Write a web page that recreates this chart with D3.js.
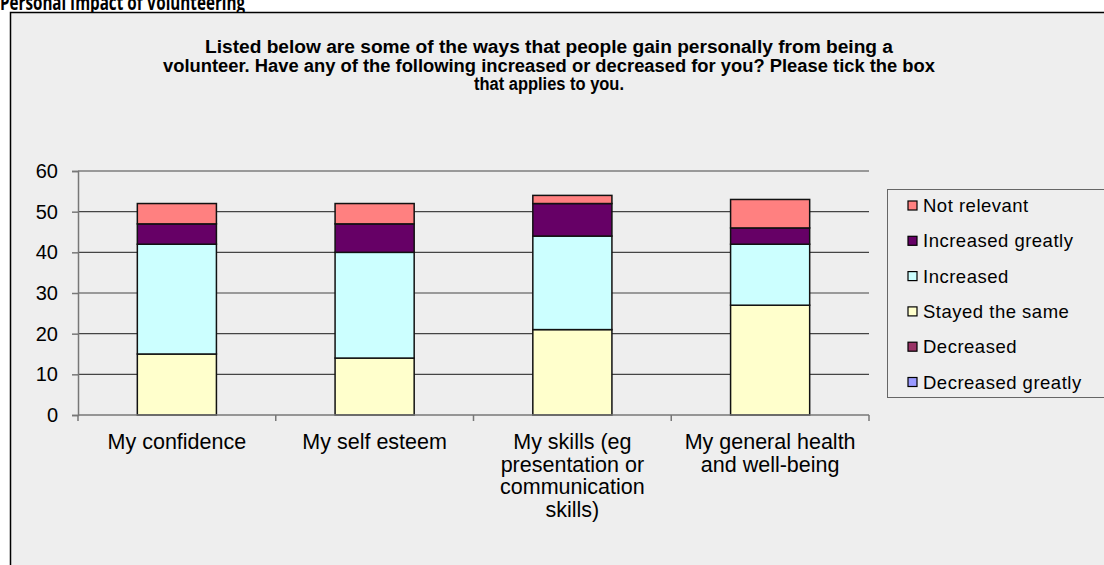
<!DOCTYPE html>
<html>
<head>
<meta charset="utf-8">
<script src="https://cdn.jsdelivr.net/npm/d3@7/dist/d3.min.js"></script>
<style>
  html, body { margin: 0; padding: 0; background: #ffffff; }
  svg { display: block; }
  text { font-family: "Liberation Sans", Arial, sans-serif; fill: #000; }
</style>
</head>
<body>
<svg id="chart" width="1104" height="565"></svg>
<script>
// Survey responses per item (counts of respondents)
const categories = [
  ["My confidence"],
  ["My self esteem"],
  ["My skills (eg", "presentation or", "communication", "skills)"],
  ["My general health", "and well-being"]
];
const seriesNames = ["Decreased greatly", "Decreased", "Stayed the same", "Increased", "Increased greatly", "Not relevant"];
const seriesColors = ["#9999FF", "#993366", "#FFFFCC", "#CCFFFF", "#660066", "#FF8080"];
const decreasedGreatly = [0, 0, 0, 0];
const decreased        = [0, 0, 0, 0];
const stayedTheSame    = [15, 14, 21, 27];
const increased        = [27, 26, 23, 15];
const increasedGreatly = [5, 7, 8, 4];
const notRelevant      = [5, 5, 2, 7];
const yTicks = [0, 10, 20, 30, 40, 50, 60];
const questionLines = [
  "Listed below are some of the ways that people gain personally from being a",
  "volunteer.  Have any of the following increased or decreased for you?  Please tick the box",
  "that applies to you."
];
const questionWidths = [688, 772, 150];

const seriesValues = [decreasedGreatly, decreased, stayedTheSame, increased, increasedGreatly, notRelevant];
const rows = categories.map((c, i) => {
  const r = { key: i };
  seriesNames.forEach((s, j) => r[s] = seriesValues[j][i]);
  return r;
});
const stacked = d3.stack().keys(seriesNames)(rows);

const svg = d3.select("#chart");

// page heading
svg.append("text")
  .attr("x", 0).attr("y", 10)
  .attr("textLength", 245).attr("lengthAdjust", "spacingAndGlyphs")
  .style("font-family", "'Open Sans', 'Noto Sans', sans-serif")
  .style("font-weight", "bold").style("font-size", "21px")
  .text("Personal Impact of Volunteering");

// chart area
svg.append("rect")
  .attr("x", 10.5).attr("y", 12.5)
  .attr("width", 1110).attr("height", 570)
  .attr("fill", "#eeeeee").attr("stroke", "#000").attr("stroke-width", 1.5);

// question text
svg.append("g").selectAll("text").data(questionLines).join("text")
  .attr("x", 549).attr("y", (d, i) => 53 + i * 18.6)
  .attr("text-anchor", "middle")
  .attr("textLength", (d, i) => questionWidths[i]).attr("lengthAdjust", "spacingAndGlyphs")
  .style("font-size", "18px").style("font-weight", "bold")
  .text(d => d);

const plot = { left: 78, right: 869, top: 171, bottom: 415 };

const x = d3.scaleBand()
  .domain(d3.range(categories.length))
  .range([plot.left, plot.right])
  .paddingInner(0.6).paddingOuter(0.3);

const y = d3.scaleLinear().domain([0, 60]).range([plot.bottom, plot.top]);

// gridlines
svg.append("g").selectAll("line").data(yTicks.filter(t => t > 0)).join("line")
  .attr("x1", plot.left).attr("x2", plot.right)
  .attr("y1", d => y(d)).attr("y2", d => y(d))
  .attr("stroke", "#444").attr("stroke-width", 1.2);

// value axis
const yAxis = svg.append("g")
  .attr("transform", `translate(${plot.left},0)`)
  .call(d3.axisLeft(y).tickValues(yTicks).tickSize(6).tickPadding(14));
yAxis.select(".domain").attr("stroke", "#777").attr("stroke-width", 1.5);
yAxis.selectAll(".tick line").attr("stroke", "#777").attr("stroke-width", 1.5);
yAxis.selectAll(".tick text")
  .style("font-family", "'Liberation Sans', Arial, sans-serif")
  .style("font-size", "20px").attr("fill", "#000");

// stacked bars
svg.append("g").selectAll("g").data(stacked).join("g")
  .attr("fill", (d, i) => seriesColors[i])
  .selectAll("rect").data(d => d.filter(p => p[1] - p[0] > 0)).join("rect")
  .attr("x", d => x(d.data.key))
  .attr("width", x.bandwidth())
  .attr("y", d => y(d[1]))
  .attr("height", d => y(d[0]) - y(d[1]))
  .attr("stroke", "#111").attr("stroke-width", 1.5);

// category axis
const step = (plot.right - plot.left) / categories.length;
const xAxis = svg.append("g");
xAxis.append("line")
  .attr("x1", plot.left).attr("x2", plot.right)
  .attr("y1", plot.bottom).attr("y2", plot.bottom)
  .attr("stroke", "#777").attr("stroke-width", 1.5);
xAxis.selectAll("line.tk").data(d3.range(categories.length + 1)).join("line")
  .attr("class", "tk")
  .attr("x1", d => plot.left + d * step).attr("x2", d => plot.left + d * step)
  .attr("y1", plot.bottom).attr("y2", plot.bottom + 6)
  .attr("stroke", "#777").attr("stroke-width", 1.5);

const labels = xAxis.selectAll("text").data(categories).join("text")
  .attr("text-anchor", "middle")
  .style("font-size", "21.5px");
labels.selectAll("tspan").data((d, i) => d.map(line => ({ line, i }))).join("tspan")
  .attr("x", d => x(d.i) + x.bandwidth() / 2)
  .attr("y", (d, k) => 449 + k * 22.5)
  .text(d => d.line);

// legend
const legend = svg.append("g");
legend.append("rect")
  .attr("x", 887.5).attr("y", 189.5).attr("width", 230).attr("height", 208)
  .attr("fill", "#eeeeee").attr("stroke", "#666").attr("stroke-width", 1);
const legendOrder = d3.range(seriesNames.length).reverse();
const items = legend.selectAll("g.item").data(legendOrder).join("g")
  .attr("class", "item")
  .attr("transform", (d, k) => `translate(908,${205.5 + k * 35.3})`);
items.append("rect")
  .attr("x", 0).attr("y", -4.5).attr("width", 9).attr("height", 9)
  .attr("fill", d => seriesColors[d]).attr("stroke", "#000").attr("stroke-width", 1.2);
items.append("text")
  .attr("x", 15).attr("y", 6.5)
  .style("font-size", "18.5px").style("letter-spacing", "0.5px")
  .text(d => seriesNames[d]);
</script>
</body>
</html>
